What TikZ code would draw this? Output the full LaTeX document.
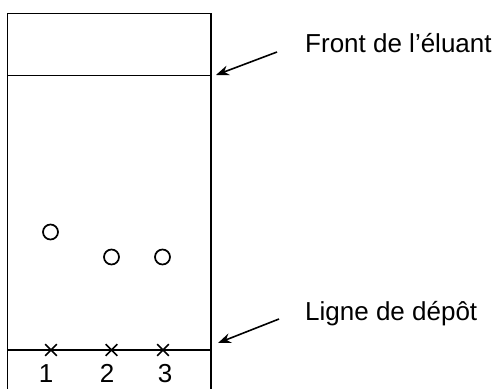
\documentclass[tikz,border=0pt]{standalone}
\usepackage{fontspec}
\setmainfont{Liberation Sans}
\usetikzlibrary{shapes.misc,arrows.meta}
\begin{document}
\begin{tikzpicture}[x=1pt,y=-1pt,
  plate/.style={line width=1.6pt},
  lbl/.style={font=\fontsize{26}{31}\selectfont,inner sep=0pt,anchor=base west},
  num/.style={font=\fontsize{26}{31}\selectfont,inner sep=0pt,anchor=base},
  spot/.style={circle,draw,line width=1.7pt,minimum size=15pt,inner sep=0pt},
  depot/.style={cross out,draw,line width=1.6pt,minimum size=10pt,inner sep=0pt},
  pointer/.style={line width=1.6pt,-{Stealth[length=13pt,width=10pt]}}]
\useasboundingbox (0,0) rectangle (497,388);
% plate
\coordinate (tl) at (7.5,13.5);
\coordinate (tr) at (211,13.5);
\coordinate (bl) at (7.5,390);
\coordinate (br) at (211,390);
\coordinate (fl) at (7.5,75.5);
\coordinate (fr) at (211,75.5);
\coordinate (dl) at (7.5,350);
\coordinate (dr) at (211,350);
\draw[plate] (bl) -- (tl) -- (tr) -- (br);
\draw[plate] (fl) -- (fr);
\draw[plate] (dl) -- (dr);
% spots
\node[spot] (s1) at (50.5,232) {};
\node[spot] (s2) at (111.5,257) {};
\node[spot] (s3) at (162.5,257) {};
% deposit marks
\node[depot] (x1) at (51,350) {};
\node[depot] (x2) at (111.5,350) {};
\node[depot] (x3) at (163,350) {};
\node[num] (n1) at (46,382) {1};
\node[num] (n2) at (107,382) {2};
\node[num] (n3) at (165,382) {3};
% labels
\node[lbl] (front) at (305,52) {Front de l’éluant};
\node[lbl] (ligne) at (305,320) {Ligne de dépôt};
\coordinate (fa) at (277,52);
\coordinate (ft) at (216,75);
\coordinate (la) at (279,319);
\coordinate (lt) at (218,343);
\draw[pointer] (fa) -- (ft);
\draw[pointer] (la) -- (lt);
\end{tikzpicture}
\end{document}
